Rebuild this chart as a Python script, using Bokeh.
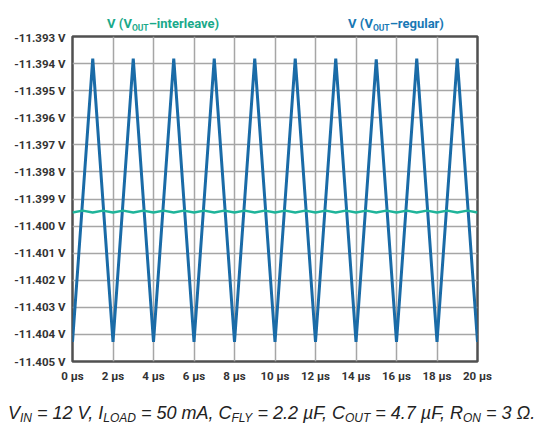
from bokeh.plotting import figure
from bokeh.layouts import column
from bokeh.models import FixedTicker, PrintfTickFormatter, Div
from bokeh.embed import file_html
from bokeh.resources import INLINE

# V(VOUT-regular): triangle ripple, troughs at even us, peaks at odd us
t_regular = [0, 1, 2, 3, 4, 5, 6, 7, 8, 9, 10, 11, 12, 13, 14, 15, 16, 17, 18, 19, 20]
v_regular = [-11.40428, -11.39382, -11.40428, -11.39382, -11.40428, -11.39382,
             -11.40428, -11.39382, -11.40428, -11.39382, -11.40428, -11.39382,
             -11.40428, -11.39382, -11.40428, -11.39384, -11.40428, -11.39382,
             -11.40428, -11.39382, -11.40428]

# V(VOUT-interleave): small ripple around -11.3995 V
t_interleave = [0, 0.5, 1, 1.5, 2, 2.5, 3, 3.5, 4, 4.5, 5, 5.5, 6, 6.5, 7, 7.5,
                8, 8.5, 9, 9.5, 10, 10.5, 11, 11.5, 12, 12.5, 13, 13.5, 14, 14.5,
                15, 15.5, 16, 16.5, 17, 17.5, 18, 18.5, 19, 19.5, 20]
v_interleave = [-11.39950, -11.39943, -11.39950, -11.39943, -11.39950, -11.39943,
                -11.39950, -11.39943, -11.39950, -11.39943, -11.39950, -11.39943,
                -11.39950, -11.39943, -11.39950, -11.39943, -11.39950, -11.39943,
                -11.39950, -11.39943, -11.39950, -11.39943, -11.39950, -11.39943,
                -11.39950, -11.39943, -11.39950, -11.39943, -11.39950, -11.39943,
                -11.39950, -11.39943, -11.39950, -11.39943, -11.39950, -11.39943,
                -11.39950, -11.39943, -11.39950, -11.39943, -11.39950]

x_ticks = [0, 2, 4, 6, 8, 10, 12, 14, 16, 18, 20]
y_ticks = [-11.393, -11.394, -11.395, -11.396, -11.397, -11.398, -11.399,
           -11.400, -11.401, -11.402, -11.403, -11.404, -11.405]

series_names = ["interleave", "regular"]
# test conditions: (symbol, subscript, value)
conditions = [("V", "IN", "12 V"), ("I", "LOAD", "50 mA"), ("C", "FLY", "2.2 µF"),
              ("C", "OUT", "4.7 µF"), ("R", "ON", "3 Ω")]

BLUE = "#1a6ba7"
TEAL = "#1fb49a"
BLUE_T = "#1878b5"
TEAL_T = "#1aa98a"
LABEL_COLOR = "#333333"
W = 540

# series names above the plot
spans = ""
for name, left, color in zip(series_names, [107, 348], [TEAL_T, BLUE_T]):
    spans += (f'<span style="position:absolute;left:{left}px;top:15px;color:{color};'
              f'white-space:nowrap">V (V<span style="font-size:8.5px;position:relative;'
              f'top:2.5px">OUT</span>–{name})</span>')
top = Div(text=f'<div style="position:relative;width:{W}px;height:30px;'
               f'font-family:Roboto;font-weight:bold;font-size:13px">{spans}</div>',
          width=W, height=30, margin=(0, 0, 0, 0))

# main plot
p = figure(width=W, height=355, x_range=(0, 20), y_range=(-11.405, -11.393),
           output_backend="svg", toolbar_location=None,
           min_border_left=72, min_border_right=63, min_border_top=6,
           min_border_bottom=24)

p.line(t_regular, v_regular, line_color=BLUE, line_width=3)
p.line(t_interleave, v_interleave, line_color=TEAL, line_width=2.5)

p.xaxis.ticker = FixedTicker(ticks=x_ticks)
p.yaxis.ticker = FixedTicker(ticks=y_ticks)
p.xaxis.formatter = PrintfTickFormatter(format="%d µs")
p.yaxis.formatter = PrintfTickFormatter(format="%.3f V")
for ax in (p.xaxis, p.yaxis):
    ax.axis_line_color = None
    ax.major_tick_line_color = None
    ax.minor_tick_line_color = None
    ax.major_tick_out = 0
    ax.minor_tick_out = 0
    ax.major_label_text_font = "Roboto"
    ax.major_label_text_font_style = "bold"
    ax.major_label_text_font_size = "11.5px"
    ax.major_label_text_color = LABEL_COLOR
p.yaxis.major_label_standoff = 7
p.xaxis.major_label_standoff = 7

p.grid.grid_line_color = "#a6a6a6"
p.grid.grid_line_width = 1.5
p.outline_line_color = "#505050"
p.outline_line_width = 2.5

# caption with the test conditions
parts = [f'{sym}<span style="font-size:12px;position:relative;top:3px">{sub}</span>'
         f' = {val}' for sym, sub, val in conditions]
cap = Div(text=f'<div style="position:relative;width:{W}px;height:44px;'
               f'font-family:\'Liberation Sans\';font-style:italic;font-size:18px;'
               f'color:#222"><span style="position:absolute;left:8px;top:16px;'
               f'white-space:nowrap">{", ".join(parts)}.</span></div>',
          width=W, height=44, margin=(0, 0, 0, 0))

layout = column(top, p, cap, spacing=0)
open("out.html", "w").write(file_html(layout, INLINE))
